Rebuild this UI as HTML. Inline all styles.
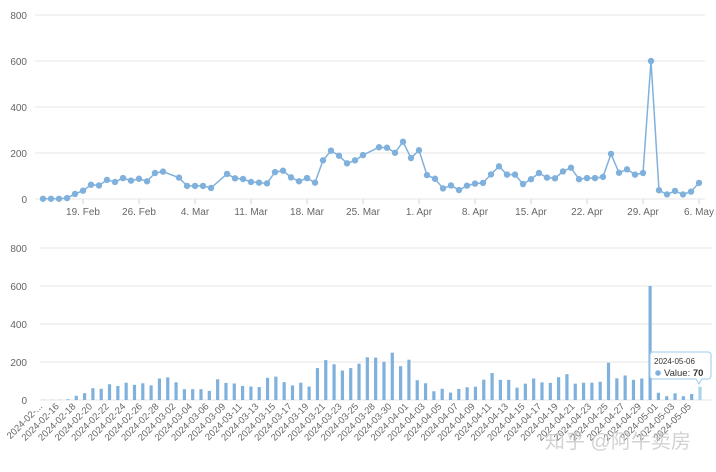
<!DOCTYPE html>
<html><head><meta charset="utf-8">
<style>
html,body{margin:0;padding:0;background:#fff;}
svg{display:block;font-family:"Liberation Sans","Noto Sans CJK SC",sans-serif;}
</style></head>
<body>
<svg id="chart" width="716" height="472" viewBox="0 0 716 472" xmlns="http://www.w3.org/2000/svg">
<g id="topchart"></g>
<g id="botchart"></g>
<text x="545" y="448" font-size="20" fill="#c8c8c8" opacity="0.8">知乎 @阿牛卖房</text>
</svg>
<script>
const dayIndex = [0,1,2,3,4,5,6,7,8,9,10,11,12,13,14,15,17,18,19,20,21,23,24,25,26,27,28,29,30,31,32,33,34,35,36,37,38,39,40,42,43,44,45,46,47,48,49,50,51,52,53,54,55,56,57,58,59,60,61,62,63,64,65,66,67,68,69,70,71,72,73,74,75,76,77,78,79,80,81,82];
const categories = ["2024-02-14","2024-02-15","2024-02-16","2024-02-17","2024-02-18","2024-02-19","2024-02-20","2024-02-21","2024-02-22","2024-02-23","2024-02-24","2024-02-25","2024-02-26","2024-02-27","2024-02-28","2024-02-29","2024-03-02","2024-03-03","2024-03-04","2024-03-05","2024-03-06","2024-03-08","2024-03-09","2024-03-10","2024-03-11","2024-03-12","2024-03-13","2024-03-14","2024-03-15","2024-03-16","2024-03-17","2024-03-18","2024-03-19","2024-03-20","2024-03-21","2024-03-22","2024-03-23","2024-03-24","2024-03-25","2024-03-27","2024-03-28","2024-03-29","2024-03-30","2024-03-31","2024-04-01","2024-04-02","2024-04-03","2024-04-04","2024-04-05","2024-04-06","2024-04-07","2024-04-08","2024-04-09","2024-04-10","2024-04-11","2024-04-12","2024-04-13","2024-04-14","2024-04-15","2024-04-16","2024-04-17","2024-04-18","2024-04-19","2024-04-20","2024-04-21","2024-04-22","2024-04-23","2024-04-24","2024-04-25","2024-04-26","2024-04-27","2024-04-28","2024-04-29","2024-04-30","2024-05-01","2024-05-02","2024-05-03","2024-05-04","2024-05-05","2024-05-06"];
const values = [1,1,1,4,22,36,62,59,83,74,91,80,88,77,113,119,93,57,57,57,48,109,90,87,74,71,68,117,123,94,77,91,71,168,210,188,155,168,191,225,223,201,249,178,212,104,88,46,59,39,58,67,70,107,142,106,106,65,86,113,93,90,120,136,86,91,91,96,196,114,129,106,113,600,38,20,35,20,32,70];
const yTicks = [0,200,400,600,800];
const topTickDays = [5,12,19,26,33,40,47,54,61,68,75,82];
const topTickLabels = ["19. Feb","26. Feb","4. Mar","11. Mar","18. Mar","25. Mar","1. Apr","8. Apr","15. Apr","22. Apr","29. Apr","6. May"];

const NS="http://www.w3.org/2000/svg";
const COL='#80b1dc';
function mk(parent,tag,attrs,text){const e=document.createElementNS(NS,tag);for(const k in attrs)e.setAttribute(k,attrs[k]);if(text!==undefined)e.textContent=text;parent.appendChild(e);return e;}
const topG=document.getElementById('topchart'), botG=document.getElementById('botchart');
const tx=d=>43+d*8, ty=v=>199-v*(184/800);
const bx=i=>43+i*(657/(categories.length-1)), by=v=>400-v*(152/800);

yTicks.forEach(v=>{
  const l=mk(topG,'line',{x1:35,x2:705,y1:ty(v),y2:ty(v),stroke:'#e6e6e6','stroke-width':1});
  
  
  const t=mk(topG,'text',{x:27,y:ty(v)+4,'font-size':10,fill:'#666','text-anchor':'end'},v);
  
  
});
topTickDays.forEach((d,i)=>{
  const tk=mk(topG,'line',{x1:tx(d),x2:tx(d),y1:199,y2:204,stroke:'#ccd6eb'});
  
  
  const t=mk(topG,'text',{x:tx(d),y:215,'font-size':10,fill:'#666','text-anchor':'middle'},topTickLabels[i]);
  
  
});
const pts=values.map((v,i)=>tx(dayIndex[i])+','+ty(v)).join(' ');
const pl=mk(topG,'polyline',{points:pts,fill:'none',stroke:COL,'stroke-width':1.5});


values.forEach((v,i)=>{
  const c=mk(topG,'circle',{cx:tx(dayIndex[i]),cy:ty(v),r:3.2,fill:COL});
  
  
});

yTicks.forEach(v=>{
  const l=mk(botG,'line',{x1:40,x2:712,y1:by(v),y2:by(v),stroke:'#e6e6e6','stroke-width':1});
  
  
  const t=mk(botG,'text',{x:27,y:by(v)+4,'font-size':10,fill:'#666','text-anchor':'end'},v);
  
  
});
values.forEach((v,i)=>{
  const last=i===values.length-1;
  const r=mk(botG,'rect',{x:bx(i)-1.6,y:by(v),width:3.2,height:400-by(v),fill:last?'#a8d4ee':COL});
  
  
});
categories.forEach((c,i)=>{
  if(i%2) return;
  const x=bx(i), y=407;
  const lab=i===0?'2024-02-...':c;
  const t=mk(botG,'text',{x:x,y:y,'font-size':9.5,fill:'#666','text-anchor':'end',transform:`rotate(-45 ${x} ${y})`},lab);
  
  
});
const tg=mk(botG,'g',{});


mk(tg,'path',{d:'M650,352 h58 a3,3 0 0 1 3,3 v21 a3,3 0 0 1 -3,3 h-6 l-3,5 l-3,-5 h-43 a3,3 0 0 1 -3,-3 v-21 a3,3 0 0 1 3,-3 z',fill:'rgba(255,255,255,0.95)',stroke:'#9fcbee','stroke-width':1});
mk(tg,'text',{x:654,y:364,'font-size':8,fill:'#333'},'2024-05-06');
mk(tg,'circle',{cx:658,cy:373,r:2.8,fill:COL});
const tv=mk(tg,'text',{x:664,y:376,'font-size':9.5,fill:'#333'},'Value: ');
mk(tv,'tspan',{'font-weight':'bold'},'70');
</script>
</body></html>
